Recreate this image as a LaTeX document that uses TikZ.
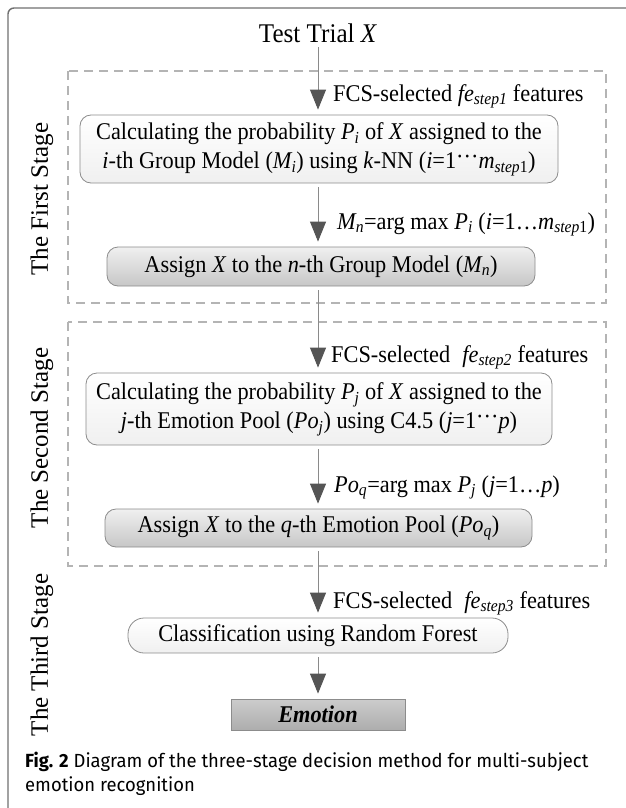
\documentclass[tikz,border=0pt]{standalone}
\usepackage{fontspec}
\setmainfont{Liberation Serif}[FakeStretch=0.93]
\newfontfamily\stagefont{Liberation Serif}
\newfontfamily\capfont{Fira Sans}[FakeStretch=0.97]
\usetikzlibrary{arrows.meta}
\definecolor{framec}{HTML}{707070}
\definecolor{dashc}{HTML}{B4B4B4}
\definecolor{linec}{HTML}{8A8A8A}
\definecolor{headc}{HTML}{555555}
\definecolor{boxline}{HTML}{8C8C8C}
\newcommand{\sbs}[1]{\textsubscript{\textit{#1}}}
\tikzset{
  arr/.style={draw=linec, line width=0.9pt, shorten >=5pt, shorten <=4pt,
     -{Triangle[length=20pt,width=16pt,color=headc]}},
  dashbox/.style={draw=dashc, line width=1.1pt, dash pattern=on 9pt off 6pt},
  rbox/.style={draw=boxline, line width=0.8pt, rounded corners=11pt, align=center,
     top color=white, bottom color=white!94!black, inner sep=0pt,
     font=\fontsize{24}{29}\selectfont},
  gbox/.style={rbox, top color=white!94!black, bottom color=white!78!black},
  lab/.style={anchor=base west, inner sep=0pt, font=\fontsize{24}{30}\selectfont},
  stage/.style={rotate=90, font=\stagefont\fontsize{25}{30}\selectfont},
}
\begin{document}
\begin{tikzpicture}[x=1pt,y=-1pt]
\useasboundingbox (0,0) rectangle (626,808);
% outer frame
\draw[framec, line width=1.4pt, rounded corners=6pt] (8,812) -- (8,8) -- (630,8);
% stage boxes
\draw[dashbox] (68,71) rectangle (606,303);
\draw[dashbox] (68,322) rectangle (606,566);
% stage labels
\node[stage] (s1) at (42,199) {The First Stage};
\node[stage] (s2) at (42,438) {The Second Stage};
\node[stage] (s3) at (42,655) {The Third Stage};
% nodes
\node[anchor=base, font=\fontsize{27}{30}\selectfont, inner sep=0pt] (title) at (318,43) {Test Trial \textit{X}};
\node[rbox, minimum width=478pt, minimum height=68pt] (b1) at (319,149)
  {Calculating the probability \textit{P\sbs{i}} of \textit{X} assigned to the\\
   \textit{i}-th Group Model (\textit{M\sbs{i}}) using \textit{k}-NN (\textit{i}=1\raisebox{0.35ex}{···}\textit{m}\textsubscript{\textit{step}1})};
\node[gbox, minimum width=428pt, minimum height=39pt] (b2) at (321,266.5)
  {Assign \textit{X} to the \textit{n}-th Group Model (\textit{M\sbs{n}})};
\node[rbox, minimum width=466pt, minimum height=72pt] (b3) at (319,409)
  {Calculating the probability \textit{P\sbs{j}} of \textit{X} assigned to the\\
   \textit{j}-th Emotion Pool (\textit{Po\sbs{j}}) using C4.5 (\textit{j}=1\raisebox{0.35ex}{···}\textit{p})};
\node[gbox, minimum width=427pt, minimum height=38pt] (b4) at (318.5,528)
  {Assign \textit{X} to the \textit{q}-th Emotion Pool (\textit{Po\sbs{q}})};
\node[rbox, rounded corners=16pt, minimum width=380pt, minimum height=35pt] (b5) at (318,635.5)
  {Classification using Random Forest};
\node[draw=boxline, line width=0.8pt, top color=white!80!black, bottom color=white!68!black,
  minimum width=174pt, minimum height=31pt, inner sep=0pt, font=\fontsize{24}{30}\selectfont] (emo) at (318,714.5)
  {\textbf{\textit{Emotion}}};
% connectors
\draw[arr] (title) -- (title |- b1.north);
\draw[arr] (b1.south -| title) -- (title |- b2.north);
\draw[arr] (b2.south -| title) -- (title |- b3.north);
\draw[arr] (b3.south -| title) -- (title |- b4.north);
\draw[arr] (b4.south -| title) -- (title |- b5.north);
\draw[arr] (b5.south -| title) -- (title |- emo.north);
% labels
\node[lab] (l1) at (333,101) {FCS-selected \textit{fe\sbs{step1}} features};
\node[lab] (l2) at (337,229) {\textit{M\sbs{n}}=arg max \textit{P\sbs{i}} (\textit{i}=1…\textit{m}\textsubscript{\textit{step}1})};
\node[lab] (l3) at (331,362) {FCS-selected \;\textit{fe\sbs{step2}} features};
\node[lab] (l4) at (334,492) {\textit{Po\sbs{q}}=arg max \textit{P\sbs{j}} (\textit{j}=1…\textit{p})};
\node[lab] (l5) at (333,608) {FCS-selected \;\textit{fe\sbs{step3}} features};
% caption
\node[anchor=north west, align=left, inner sep=0pt, font=\capfont\fontsize{19}{24}\selectfont] (cap) at (25,752)
  {\textbf{Fig. 2} Diagram of the three-stage decision method for multi-subject\\emotion recognition};
\end{tikzpicture}
\end{document}
